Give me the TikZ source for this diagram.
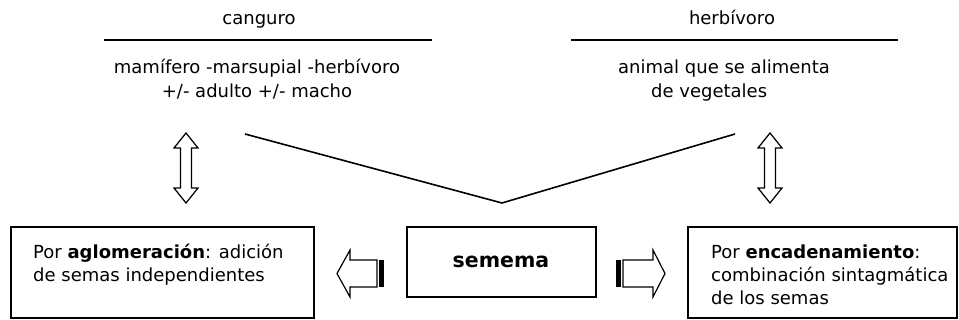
\documentclass[tikz,border=0pt]{standalone}
\usepackage{fontspec}
\setmainfont{DejaVu Sans}
\begin{document}
\begin{tikzpicture}[x=1pt,y=-1pt,
  txt/.style={inner sep=0pt,font=\fontsize{18}{23.5}\selectfont},
  big/.style={inner sep=0pt,font=\fontsize{20.5}{24}\selectfont\bfseries},
  rule/.style={line width=1.6pt},
  boxed/.style={draw,line width=1.4pt,inner sep=0pt},
  blockarrow/.style={draw,line width=1.2pt,fill=white,line join=miter},
  stripe/.style={fill=black}]
\useasboundingbox (0,0) rectangle (959,320);
% top texts
\node[txt,anchor=base] (canguro) at (259,25) {canguro};
\draw[rule] (104,40) coordinate (l1a) -- (432,40) coordinate (l1b);
\node[txt,anchor=base] (def1a) at (257,74) {mamífero -marsupial -herbívoro};
\node[txt,anchor=base] (def1b) at (257,98) {+/- adulto +/- macho};
\node[txt,anchor=base] (herb) at (732,25) {herbívoro};
\draw[rule] (571,40) coordinate (l2a) -- (898,40) coordinate (l2b);
\node[txt,anchor=base west] (def2a) at (618,74) {animal que se alimenta};
\node[txt,anchor=base west] (def2b) at (651,98) {de vegetales};
% V lines
\coordinate (va) at (245,134);
\coordinate (vb) at (502,203);
\coordinate (vc) at (735,134);
\draw[rule,line join=miter] (va) -- (vb) -- (vc);
% boxes
\draw[boxed] (11,227) rectangle (314,318);
\node[txt,anchor=base west] (lbox1) at (33,259) {Por \textbf{aglomeración}: adición};
\node[txt,anchor=base west] (lbox2) at (33,282) {de semas independientes};
\draw[boxed] (407,227) rectangle (596,297);
\node[big,anchor=base] (semema) at (501,268) {semema};
\draw[boxed] (688,227) rectangle (957,318);
\node[txt,anchor=base west] (rbox1) at (711,259) {Por \textbf{encadenamiento}:};
\node[txt,anchor=base west] (rbox2) at (711,282) {combinación sintagmática};
\node[txt,anchor=base west] (rbox3) at (711,305) {de los semas};
% vertical double arrows
\foreach \cx in {186,770}{
  \draw[blockarrow] (\cx,133) -- (\cx+12,148) -- (\cx+5.5,148) -- (\cx+5.5,188)
    -- (\cx+12,188) -- (\cx,203) -- (\cx-12,188) -- (\cx-5.5,188)
    -- (\cx-5.5,148) -- (\cx-12,148) -- cycle;
}
% left striped arrow
\draw[blockarrow] (337,273.5) -- (350,250) -- (350,260) -- (377,260) -- (377,287)
  -- (350,287) -- (350,297) -- cycle;
\fill[stripe] (379,260) rectangle (384,287);
% right striped arrow
\draw[blockarrow] (665,273.5) -- (653,250) -- (653,260) -- (623,260) -- (623,287)
  -- (653,287) -- (653,297) -- cycle;
\fill[stripe] (616,260) rectangle (621,287);
\end{tikzpicture}
\end{document}
